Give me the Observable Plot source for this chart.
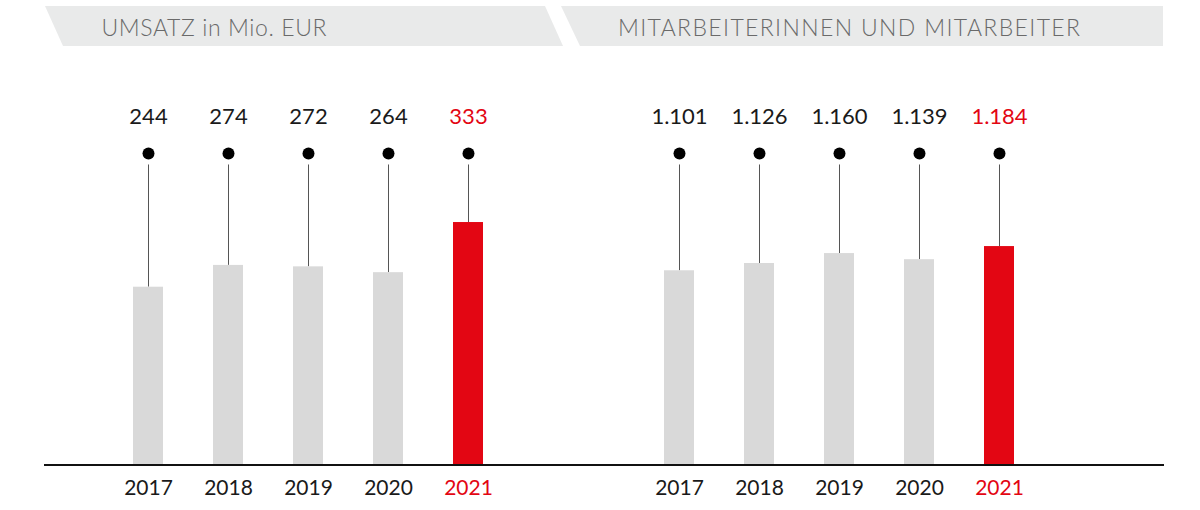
<!DOCTYPE html>
<html>
<head>
<meta charset="utf-8">
<script src="https://cdn.jsdelivr.net/npm/d3@7"></script>
<script src="https://cdn.jsdelivr.net/npm/@observablehq/plot@0.6"></script>
<style>
  html, body { margin: 0; padding: 0; background: #fff; }
  #wrap { position: relative; width: 1200px; height: 510px; overflow: hidden; font-family: Lato, "Noto Sans", sans-serif; }
  #left, #right { position: absolute; top: 0; }
  #left { left: 0; }
  #right { left: 560px; }
  #banners { position: absolute; left: 0; top: 0; pointer-events: none; }
</style>
</head>
<body>
<div id="wrap">
  <div id="left"></div>
  <div id="right"></div>
  <svg id="banners" width="1200" height="60">
    <polygon points="45,6 545,6 563,46 63,46" fill="#e9eaea"></polygon>
    <polygon points="561,6 1163,6 1163,46 580,46" fill="#e9eaea"></polygon>
    <text x="101.5" y="36" font-size="23" font-weight="300" fill="#6a6a6a" textLength="225" lengthAdjust="spacing" font-family="Lato, 'Noto Sans', sans-serif">UMSATZ in Mio. EUR</text>
    <text x="618" y="36" font-size="23" font-weight="300" fill="#6a6a6a" textLength="462" lengthAdjust="spacing" font-family="Lato, 'Noto Sans', sans-serif">MITARBEITERINNEN UND MITARBEITER</text>
  </svg>
</div>
<script>
// ---- data ----
const years = ["2017", "2018", "2019", "2020", "2021"];
const revenue = [244, 274, 272, 264, 333];        // Umsatz in Mio. EUR
const staff = [1101, 1126, 1160, 1139, 1184];     // Mitarbeiterinnen und Mitarbeiter
const highlightYear = "2021";
// scale settings
const revenueDomain = [0, 428];
const staffDomain = [437, 1503];

// ---- styles ----
const grey = "#d9d9d9";
const red = "#e30613";
const ink = "#1a1a1a";
const de = d3.formatLocale({decimal: ",", thousands: ".", grouping: [3], currency: ["", " €"]});
const fmt = de.format(",d");

function panel(values, domain, range, width, marginLeft, marginRight) {
  const data = years.map((year, i) => ({year, value: values[i]}));
  const isHi = d => d.year === highlightYear;
  return Plot.plot({
    width,
    height: 510,
    marginTop: 153,
    marginBottom: 46,
    marginLeft,
    marginRight,
    style: {background: "transparent", fontFamily: "Lato, 'Noto Sans', sans-serif", overflow: "visible"},
    x: {domain: years, range, padding: 0.625, axis: null},
    y: {domain, axis: null, clamp: true},
    marks: [
      Plot.ruleX(data, {x: "year", y1: "value", y2: domain[1], stroke: "#555", strokeWidth: 1}),
      Plot.barY(data, {x: "year", y1: domain[0], y2: "value", fill: d => isHi(d) ? red : grey}),
      Plot.dot(data, {x: "year", frameAnchor: "top", r: 11, fill: "#fff", stroke: null}),
      Plot.dot(data, {x: "year", frameAnchor: "top", r: 6, fill: "#000", stroke: null}),
      Plot.text(data, {x: "year", text: d => fmt(d.value), frameAnchor: "top", lineAnchor: "middle", dy: -37, fontSize: 22, fill: d => isHi(d) ? red : ink}),
      Plot.ruleY([domain[0]], {stroke: "#111", strokeWidth: 2, dy: 0.5}),
      Plot.text(data, {x: "year", text: "year", frameAnchor: "bottom", lineAnchor: "middle", dy: 24, fontSize: 21, fill: d => isHi(d) ? red : ink})
    ]
  });
}

document.getElementById("left").append(panel(revenue, revenueDomain, [83, 533], 560, 44, 0));
document.getElementById("right").append(panel(staff, staffDomain, [54, 504], 640, 0, 36));
</script>
</body>
</html>
